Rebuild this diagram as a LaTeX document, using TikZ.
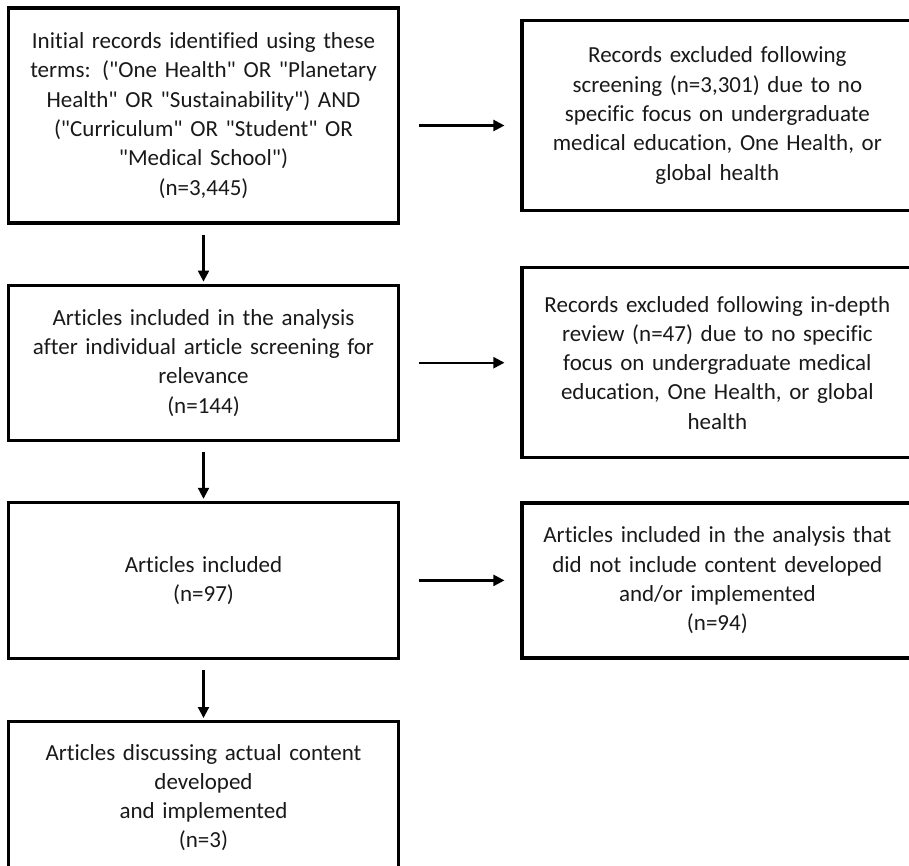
\documentclass[tikz,border=0pt]{standalone}
\usepackage{fontspec}
\setmainfont{Carlito}[Ligatures={TeXOff,NoCommon}]
\usetikzlibrary{arrows.meta,positioning}
\tikzset{
  box/.style={rectangle, draw=black, line width=3.2pt, align=center, text width=384pt, minimum width=390pt, font=\fontsize{23}{29.3}\selectfont, text=black!90},
  arrow/.style={-{Triangle[length=11pt,width=11pt]}, line width=2.2pt, draw=black}
}
\begin{document}
\begin{tikzpicture}
\useasboundingbox (0,0) rectangle (909pt,-865pt);
% left column
\node[box, minimum height=215pt] (initial) at (203.5pt,-115.5pt) {Initial records identified using these\\terms: ("One Health" OR "Planetary\\Health" OR "Sustainability") AND\\("Curriculum" OR "Student" OR\\"Medical School")\\(n=3,445)};
\node[box, minimum height=155pt, below=59pt of initial] (analysis) {Articles included in the analysis\\after individual article screening for\\relevance\\(n=144)};
\node[box, minimum height=156pt, below=59pt of analysis] (included) {Articles included\\(n=97)};
\node[box, minimum height=152pt, below=60pt of included] (content) {Articles discussing actual content\\developed\\and implemented\\(n=3)};
% right column
\node[box, minimum height=190pt, right=120pt of initial] (screenout) {Records excluded following\\screening (n=3,301) due to no\\specific focus on undergraduate\\medical education, One Health, or\\global health};
\node[box, minimum height=190pt, right=120pt of analysis] (reviewout) {Records excluded following in-depth\\review (n=47) due to no specific\\focus on undergraduate medical\\education, One Health, or global\\health};
\node[box, minimum height=155pt, right=120pt of included] (nocontent) {Articles included in the analysis that\\did not include content developed\\and/or implemented\\(n=94)};
\draw[arrow, shorten <=10pt, shorten >=2pt] (initial) -- (analysis);
\draw[arrow, shorten <=10pt, shorten >=2pt] (analysis) -- (included);
\draw[arrow, shorten <=10pt, shorten >=2pt] (included) -- (content);
\draw[arrow, shorten <=19pt, shorten >=16pt] ([yshift=-10pt]initial.east) -- ([yshift=-10pt]screenout.west);
\draw[arrow, shorten <=19pt, shorten >=16pt] (analysis) -- (reviewout);
\draw[arrow, shorten <=19pt, shorten >=16pt] (included) -- (nocontent);
\end{tikzpicture}
\end{document}
